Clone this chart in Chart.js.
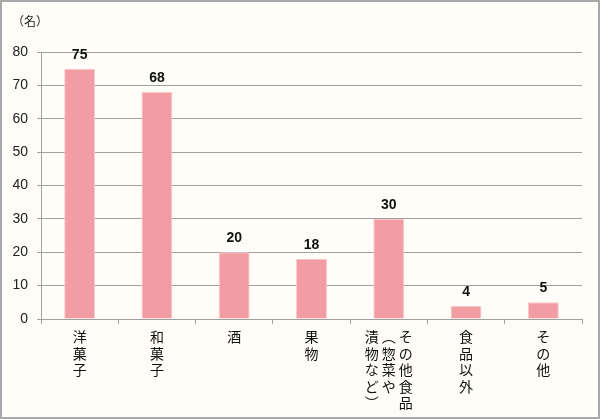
<!DOCTYPE html>
<html>
<head>
<meta charset="utf-8">
<script src="https://cdn.jsdelivr.net/npm/chart.js@4/dist/chart.umd.min.js"></script>
<style>
  html, body { margin: 0; padding: 0; background: #fffdf8; }
  #wrap { width: 600px; height: 419px; }
</style>
</head>
<body>
<div id="wrap"><canvas id="chart" width="600" height="419"></canvas></div>
<script>
// categories (each entry = vertical columns, right to left)
const categories = ["洋菓子", "和菓子", "酒", "果物", "その他食品（惣菜や漬物など）", "食品以外", "その他"];
const labelColumns = [
  ["洋菓子"],
  ["和菓子"],
  ["酒"],
  ["果物"],
  ["その他食品", "︵惣菜や", "漬物など︶"],
  ["食品以外"],
  ["その他"]
];
const counts = [75, 68, 20, 18, 30, 4, 5];
const yTicks = [0, 10, 20, 30, 40, 50, 60, 70, 80];
const unitLabel = "（名）";

const FONT = "'Noto Sans CJK JP', 'Noto Sans', sans-serif";

const decor = {
  id: "decor",
  beforeDraw(chart) {
    const c = chart.ctx;
    c.save();
    c.fillStyle = "#fffdf8";
    c.fillRect(0, 0, chart.width, chart.height);
    c.strokeStyle = "#a8a8a8";
    c.lineWidth = 2;
    c.strokeRect(1, 1, chart.width - 2, chart.height - 2);
    c.restore();
  },
  afterDraw(chart) {
    const c = chart.ctx;
    const x = chart.scales.x;
    const meta = chart.getDatasetMeta(0);
    c.save();
    // unit
    c.fillStyle = "#222";
    c.font = "12px " + FONT;
    c.textAlign = "left";
    c.textBaseline = "middle";
    c.fillText(unitLabel, 12, 21);
    // value labels
    c.font = "bold 14px 'Liberation Sans', Arial, sans-serif";
    c.textAlign = "center";
    c.fillStyle = "#111";
    meta.data.forEach((bar, i) => {
      c.fillText(String(counts[i]), bar.x, bar.y - 14);
    });
    // vertical category labels
    c.font = "14px " + FONT;
    c.fillStyle = "#111";
    labelColumns.forEach((cols, i) => {
      const cx = x.getPixelForTick(i);
      const n = cols.length;
      cols.forEach((col, j) => {
        const colX = cx + ((n - 1) / 2 - j) * 17;
        [...col].forEach((ch, k) => {
          c.fillText(ch, colX, 337 + k * 16.5);
        });
      });
    });
    c.restore();
  }
};

new Chart(document.getElementById("chart"), {
  type: "bar",
  data: {
    labels: categories,
    datasets: [{
      data: counts,
      backgroundColor: "#f29ca3",
      borderColor: "#fbc6ca",
      borderWidth: 1,
      barPercentage: 0.4,
      categoryPercentage: 1
    }]
  },
  options: {
    responsive: false,
    animation: false,
    layout: { padding: { top: 52, right: 18, left: 0, bottom: 0 } },
    plugins: { legend: { display: false }, tooltip: { enabled: false } },
    scales: {
      x: {
        afterFit: s => { s.height = 100; },
        grid: { offset: true, drawOnChartArea: false, drawTicks: true, tickLength: 5, color: "#a0a0a0" },
        border: { color: "#a0a0a0" },
        ticks: { display: false }
      },
      y: {
        min: 0,
        max: 80,
        afterFit: s => { s.width = 41; },
        afterBuildTicks: s => { s.ticks = yTicks.map(v => ({ value: v })); },
        grid: { color: "#a0a0a0", tickLength: 4 },
        border: { color: "#a0a0a0" },
        ticks: { padding: 9, color: "#222", font: { size: 14, family: "'Liberation Sans', Arial, sans-serif" } }
      }
    }
  },
  plugins: [decor]
});
</script>
</body>
</html>
